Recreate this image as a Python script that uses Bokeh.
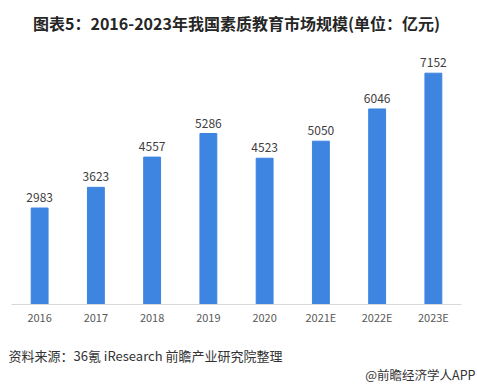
from bokeh.plotting import figure
from bokeh.models import ColumnDataSource, Title, Range1d
from bokeh.core.properties import value
from bokeh.embed import file_html
from bokeh.resources import INLINE

categories = ["2016", "2017", "2018", "2019", "2020", "2021E", "2022E", "2023E"]
values = [2983, 3623, 4557, 5286, 4523, 5050, 6046, 7152]
title_text = "图表5：2016-2023年我国素质教育市场规模(单位：亿元)"
source_text = "资料来源：36氪 iResearch 前瞻产业研究院整理"
footer_text = "@前瞻经济学人APP"

FONT = "Noto Sans CJK SC"

src = ColumnDataSource(dict(cat=categories, val=values, lbl=[str(v) for v in values]))

p = figure(x_range=categories, y_range=Range1d(0, 8194), width=477, height=388,
           output_backend="svg", toolbar_location=None,
           min_border_left=11, min_border_right=16, min_border_top=39, min_border_bottom=84)

p.title.text = title_text
p.title.align = "center"
p.title.text_font = FONT
p.title.text_font_size = "16px"
p.title.text_font_style = "bold"
p.title.text_color = "#262626"

p.vbar(x="cat", top="val", width=0.3, source=src, color="#3d85e0")
p.text(x="cat", y="val", text="lbl", source=src, text_align="center", text_baseline="bottom",
       y_offset=-6, text_font=value(FONT), text_font_size="12px", text_color="#404040")

p.yaxis.visible = False
p.xgrid.grid_line_color = None
p.ygrid.grid_line_color = None
p.outline_line_color = None
p.background_fill_color = "white"
p.border_fill_color = "white"
p.x_range.range_padding = 0.0

ax = p.xaxis[0]
ax.axis_line_color = "#d9d9d9"
ax.axis_line_width = 1
ax.major_tick_line_color = None
ax.minor_tick_line_color = None
ax.major_tick_out = 0
ax.major_tick_in = 0
ax.minor_tick_out = 0
ax.major_label_standoff = 4
ax.major_label_text_font = FONT
ax.major_label_text_font_size = "11px"
ax.major_label_text_color = "#595959"

# spacer between axis labels and source line
p.add_layout(Title(text=" ", standoff=3, text_font=FONT, text_font_size="8px",
                   text_font_style="normal", text_color="#ffffff"), "below")
p.add_layout(Title(text=source_text, align="left", offset=-3, standoff=0,
                   vertical_align="bottom", text_font=FONT, text_font_size="13px",
                   text_font_style="normal", text_color="#333333"), "below")
p.add_layout(Title(text=footer_text, align="right", offset=-14, standoff=0,
                   vertical_align="top", text_font=FONT, text_font_size="12.5px",
                   text_font_style="normal", text_color="#333333"), "below")

open("out.html", "w").write(file_html(p, INLINE))
